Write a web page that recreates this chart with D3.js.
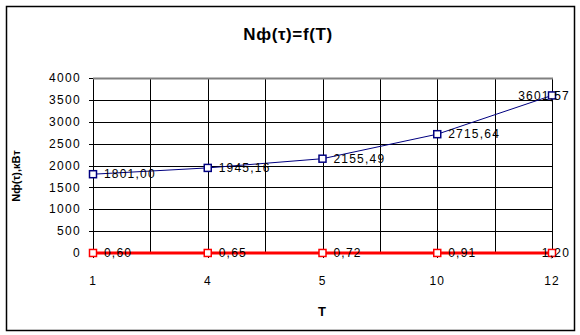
<!DOCTYPE html>
<html><head><meta charset="utf-8">
<script src="https://cdn.jsdelivr.net/npm/d3@7"></script>
<style>
body{margin:0;background:#fff;}
text{font-family:"Liberation Sans",Arial,sans-serif;}
</style></head>
<body><svg id="c" width="580" height="335"></svg>
<script>
const categories = ["1","4","5","10","12"];
const seriesN = [1801.00, 1945.16, 2155.49, 2715.64, 3601.57];
const seriesLow = [0.60, 0.65, 0.72, 0.91, 1.20];
const yTicks = [0,500,1000,1500,2000,2500,3000,3500,4000];
const title = "Nф(τ)=f(T)";
const xTitle = "T";
const yTitle = "Nф(τ),кВт";

const svg = d3.select("#c");
const L=93,R=552,T=78,B=253;

svg.append("rect").attr("x",6.5).attr("y",6.5).attr("width",568).attr("height",324)
  .attr("fill","#fff").attr("stroke","#000").attr("stroke-width",1.5);

const x = d3.scalePoint().domain(categories).range([L,R]);
const y = d3.scaleLinear().domain([0,4000]).range([B,T]);

// vertical gridlines at categories and midpoints
const step = x.step();
const vlines = [];
categories.forEach((c,i)=>{ vlines.push(x(c)); if(i<categories.length-1) vlines.push(x(c)+step/2); });
svg.append("g").selectAll("line").data(vlines).join("line")
  .attr("x1",d=>Math.round(d)+0.5).attr("x2",d=>Math.round(d)+0.5)
  .attr("y1",T).attr("y2",(d,i)=>i%2===0?B+5:B).attr("stroke","#000");

// horizontal gridlines
svg.append("g").selectAll("line").data(yTicks.filter(v=>v>0&&v<4000)).join("line")
  .attr("x1",L-4).attr("x2",R).attr("y1",d=>Math.round(y(d))+0.5).attr("y2",d=>Math.round(y(d))+0.5)
  .attr("stroke","#000");
// top border gray
svg.append("line").attr("x1",L).attr("x2",R+1).attr("y1",Math.round(T)+0.5).attr("y2",Math.round(T)+0.5)
  .attr("stroke","#808080").attr("stroke-width",2);
svg.append("line").attr("x1",L-4).attr("x2",L).attr("y1",Math.round(T)+0.5).attr("y2",Math.round(T)+0.5).attr("stroke","#000");
svg.append("line").attr("x1",L-4).attr("x2",L).attr("y1",B+0.5).attr("y2",B+0.5).attr("stroke","#000");

// y tick labels
svg.append("g").selectAll("text").data(yTicks).join("text")
  .attr("x",81).attr("y",d=>y(d)).attr("dy","0.35em").attr("text-anchor","end")
  .attr("font-size",12).attr("letter-spacing",1.3).attr("fill","#000").text(d=>d);

// x tick labels
svg.append("g").selectAll("text").data(categories).join("text")
  .attr("x",d=>x(d)).attr("y",285).attr("text-anchor","middle")
  .attr("font-size",12).attr("letter-spacing",1).attr("fill","#000").text(d=>d);

// titles
svg.append("text").attr("x",288).attr("y",40).attr("text-anchor","middle")
  .attr("font-size",17).attr("font-weight","bold").attr("letter-spacing",0.6).text(title);
svg.append("text").attr("x",322).attr("y",316).attr("text-anchor","middle")
  .attr("font-size",13).attr("font-weight","bold").text(xTitle);
svg.append("text").attr("transform","translate(20,176) rotate(-90)").attr("text-anchor","middle")
  .attr("font-size",11).attr("font-weight","bold").text(yTitle);

const fmt = v => v.toFixed(2).replace(".",",");

// blue series
const line = d3.line().x((d,i)=>x(categories[i])).y(d=>y(d));
svg.append("path").datum(seriesN).attr("d",line).attr("fill","none").attr("stroke","#000080").attr("stroke-width",1);
svg.append("g").selectAll("rect").data(seriesN).join("rect")
  .attr("x",(d,i)=>x(categories[i])-3.5).attr("y",d=>y(d)-3.5).attr("width",7).attr("height",7)
  .attr("fill","#fff").attr("stroke","#000080").attr("stroke-width",1.5);

// red series
svg.append("path").datum(seriesLow).attr("d",line).attr("fill","none").attr("stroke","#ff0000").attr("stroke-width",3);
svg.append("g").selectAll("rect").data(seriesLow).join("rect")
  .attr("x",(d,i)=>x(categories[i])-3.5).attr("y",d=>y(d)-3.5).attr("width",7).attr("height",7)
  .attr("fill","#fff").attr("stroke","#ff0000").attr("stroke-width",1.5);

// labels
function labels(data){
  svg.append("g").selectAll("text").data(data).join("text")
    .attr("x",(d,i)=>i===data.length-1 ? 570 : x(categories[i])+11)
    .attr("text-anchor",(d,i)=>i===data.length-1?"end":"start")
    .attr("y",d=>y(d)).attr("dy","0.35em")
    .attr("font-size",12).attr("letter-spacing",1.2).attr("fill","#000").text(d=>fmt(d));
}
labels(seriesN);
labels(seriesLow);
</script></body></html>
